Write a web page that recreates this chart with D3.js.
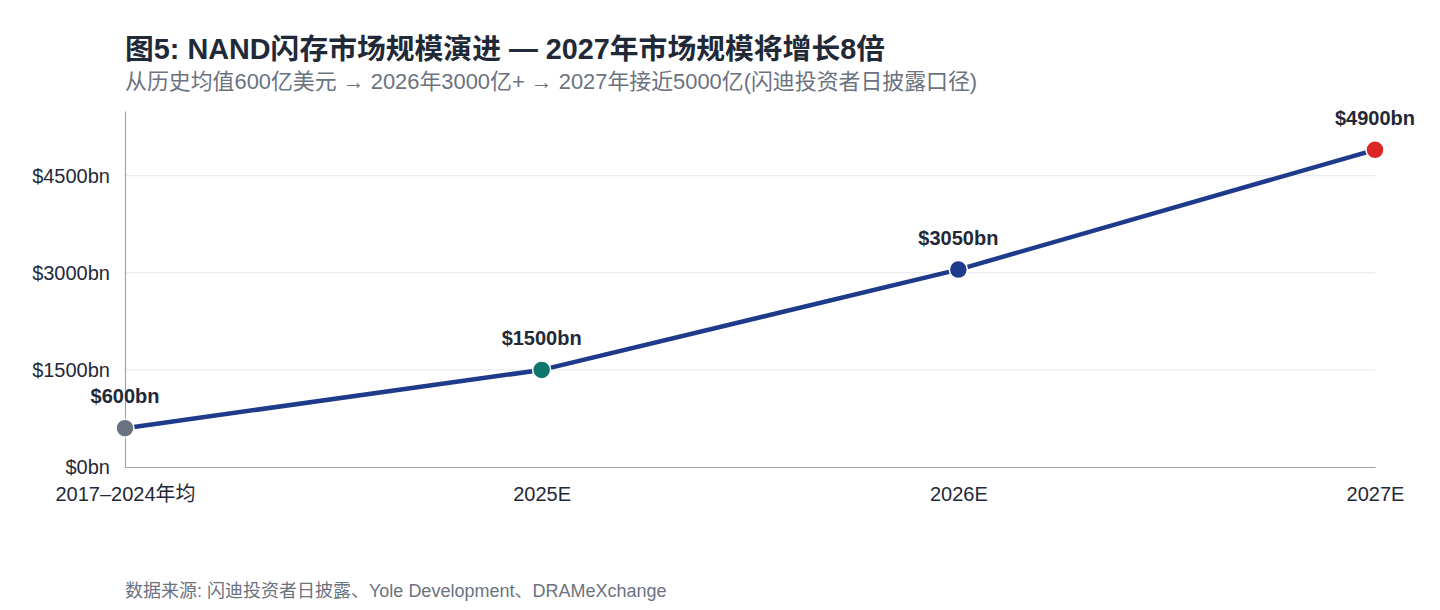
<!DOCTYPE html>
<html><head><meta charset="utf-8">
<script src="https://cdn.jsdelivr.net/npm/d3@7"></script>
<style>
body{margin:0;background:#fff;}
svg{font-family:"Liberation Sans",Arial,"Noto Sans CJK SC",sans-serif;}
</style></head>
<body>
<svg id="c" width="1440" height="610"></svg>
<script>
const categories = ["2017–2024年均","2025E","2026E","2027E"];
const values = [600,1500,3050,4900];
const valueLabels = ["$600bn","$1500bn","$3050bn","$4900bn"];
const pointColors = ["#6b7280","#0f766e","#1e3a8a","#dc2626"];
const yTicks = [0,1500,3000,4500];
const yMax = 5500;
const title = "图5: NAND闪存市场规模演进 — 2027年市场规模将增长8倍";
const subtitle = "从历史均值600亿美元 → 2026年3000亿+ → 2027年接近5000亿(闪迪投资者日披露口径)";
const source = "数据来源: 闪迪投资者日披露、Yole Development、DRAMeXchange";

const svg = d3.select("#c");
const m = {left:125,right:65,top:111,bottom:143};
const W = 1440, H = 610;
const x = d3.scalePoint().domain(categories).range([m.left, W-m.right]).padding(0);
const y = d3.scaleLinear().domain([0,yMax]).range([H-m.bottom, m.top]);

svg.append("text").attr("x",125).attr("y",59).attr("font-size",28.8).attr("font-weight","bold").attr("fill","#1f2937").text(title);
svg.append("text").attr("x",125).attr("y",89).attr("font-size",21.9).attr("fill","#6b7280").text(subtitle);

// grid
svg.append("g").selectAll("line").data(yTicks.filter(d=>d>0)).join("line")
  .attr("x1",m.left).attr("x2",W-m.right).attr("y1",d=>y(d)).attr("y2",d=>y(d))
  .attr("stroke","#e5e7eb").attr("stroke-width",1);

const ya = svg.append("g").attr("transform",`translate(${m.left},0)`)
  .call(d3.axisLeft(y).tickValues(yTicks).tickSize(0).tickPadding(15).tickFormat(d=>"$"+d+"bn"));
ya.attr("font-family",null);
ya.select(".domain").attr("stroke","#9ca3af").attr("stroke-width",1.2);
ya.selectAll("text").attr("font-size",20).attr("fill","#1f2937");

const xa = svg.append("g").attr("transform",`translate(0,${H-m.bottom})`)
  .call(d3.axisBottom(x).tickSize(0).tickPadding(20));
xa.attr("font-family",null);
xa.select(".domain").attr("stroke","#9ca3af").attr("stroke-width",1.2);
xa.selectAll("text").attr("font-size",20).attr("fill","#1f2937");

const line = d3.line().x((d,i)=>x(categories[i])).y(d=>y(d));
svg.append("path").datum(values).attr("d",line).attr("fill","none")
  .attr("stroke","#1e3a8a").attr("stroke-width",4.5).attr("stroke-linejoin","round");

svg.append("g").selectAll("circle").data(values).join("circle")
  .attr("cx",(d,i)=>x(categories[i])).attr("cy",d=>y(d)).attr("r",9)
  .attr("fill",(d,i)=>pointColors[i]).attr("stroke","#fff").attr("stroke-width",1.5);

svg.append("g").selectAll("text").data(values).join("text")
  .attr("x",(d,i)=>x(categories[i])).attr("y",d=>y(d)-25)
  .attr("text-anchor","middle").attr("font-size",20).attr("font-weight","bold").attr("fill","#1f2937")
  .text((d,i)=>valueLabels[i]);

svg.append("text").attr("x",125).attr("y",597).attr("font-size",18).attr("fill","#6b7280").text(source);
</script>
</body></html>
